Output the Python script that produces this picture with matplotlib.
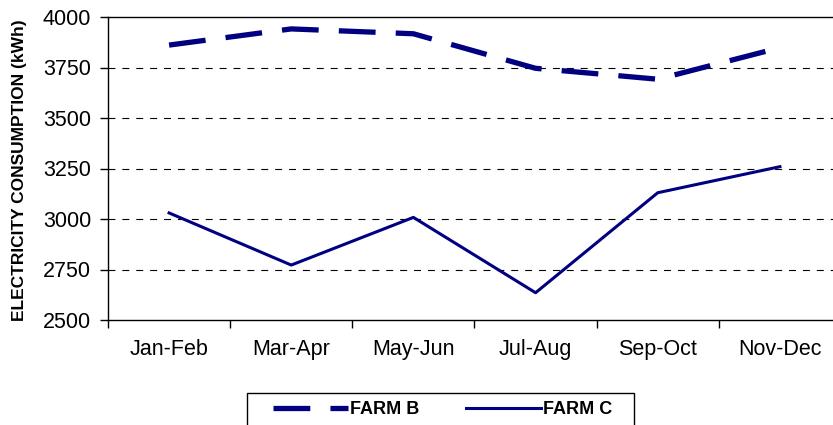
import matplotlib
matplotlib.use("Agg")
import matplotlib.pyplot as plt
from matplotlib.patches import Rectangle
import numpy as np

plt.rcParams['font.family'] = ['Liberation Sans', 'DejaVu Sans']
plt.rcParams['lines.scale_dashes'] = False

# data
periods = ['Jan-Feb', 'Mar-Apr', 'May-Jun', 'Jul-Aug', 'Sep-Oct', 'Nov-Dec']
farm_b = [3861, 3941, 3917, 3746, 3692, 3848]
farm_c = [3030, 2772, 3008, 2635, 3130, 3259]
y_ticks = [2500, 2750, 3000, 3250, 3500, 3750, 4000]

navy = '#000080'
W, H = 833, 425

fig = plt.figure(figsize=(W / 100, H / 100), dpi=100)
ax = fig.add_axes([108 / W, 1 - 320 / H, 733 / W, 303 / H])

x = np.arange(len(periods))
ax.plot(x, farm_b, color=navy, linewidth=3.8, dashes=[26.5, 14.5],
        solid_capstyle='butt', dash_capstyle='butt', label='FARM B')
ax.plot(x, farm_c, color=navy, linewidth=2.2, label='FARM C')

ax.set_xlim(-0.5, len(periods) - 0.5)
ax.set_ylim(2500, 4000)
ax.set_yticks(y_ticks)
ax.set_yticklabels([str(v) for v in y_ticks], fontsize=15.5)

# ticks on category boundaries, labels centred under categories
ax.set_xticks(np.arange(len(periods) + 1) - 0.5)
ax.set_xticklabels([])
ax.set_xticks(x, minor=True)
ax.set_xticklabels(periods, minor=True, fontsize=15.5)
ax.tick_params(axis='x', which='minor', length=0, pad=14)
ax.tick_params(axis='x', which='major', length=6, width=1, direction='out')
ax.tick_params(axis='y', length=6, width=1, direction='out', pad=6)

for v in y_ticks[1:-1]:
    ax.axhline(v, color='black', linewidth=0.8, dashes=[5, 5], zorder=0)

ax.spines['right'].set_visible(False)
for s in ['left', 'bottom', 'top']:
    ax.spines[s].set_linewidth(1)
    ax.spines[s].set_color('black')

fig.text(20 / W, 1 - 170 / H, 'ELECTRICITY CONSUMPTION (kWh)', rotation=90,
         fontsize=12.5, fontweight='bold', ha='center', va='center')

# legend box (runs off the bottom edge, as in the reference)
fig.patches.append(Rectangle((247 / W, 1 - 440 / H), 387 / W, 47 / H,
                             transform=fig.transFigure, facecolor='white',
                             edgecolor='black', linewidth=1))
fig.legend(loc='center left', bbox_to_anchor=(273 / W, 1 - 410 / H),
           ncol=2, frameon=False, handlelength=4.15, columnspacing=2.6,
           handletextpad=0.12, borderpad=0, borderaxespad=0,
           prop={'size': 13, 'weight': 'bold'})

fig.savefig('out.png', dpi=100)
